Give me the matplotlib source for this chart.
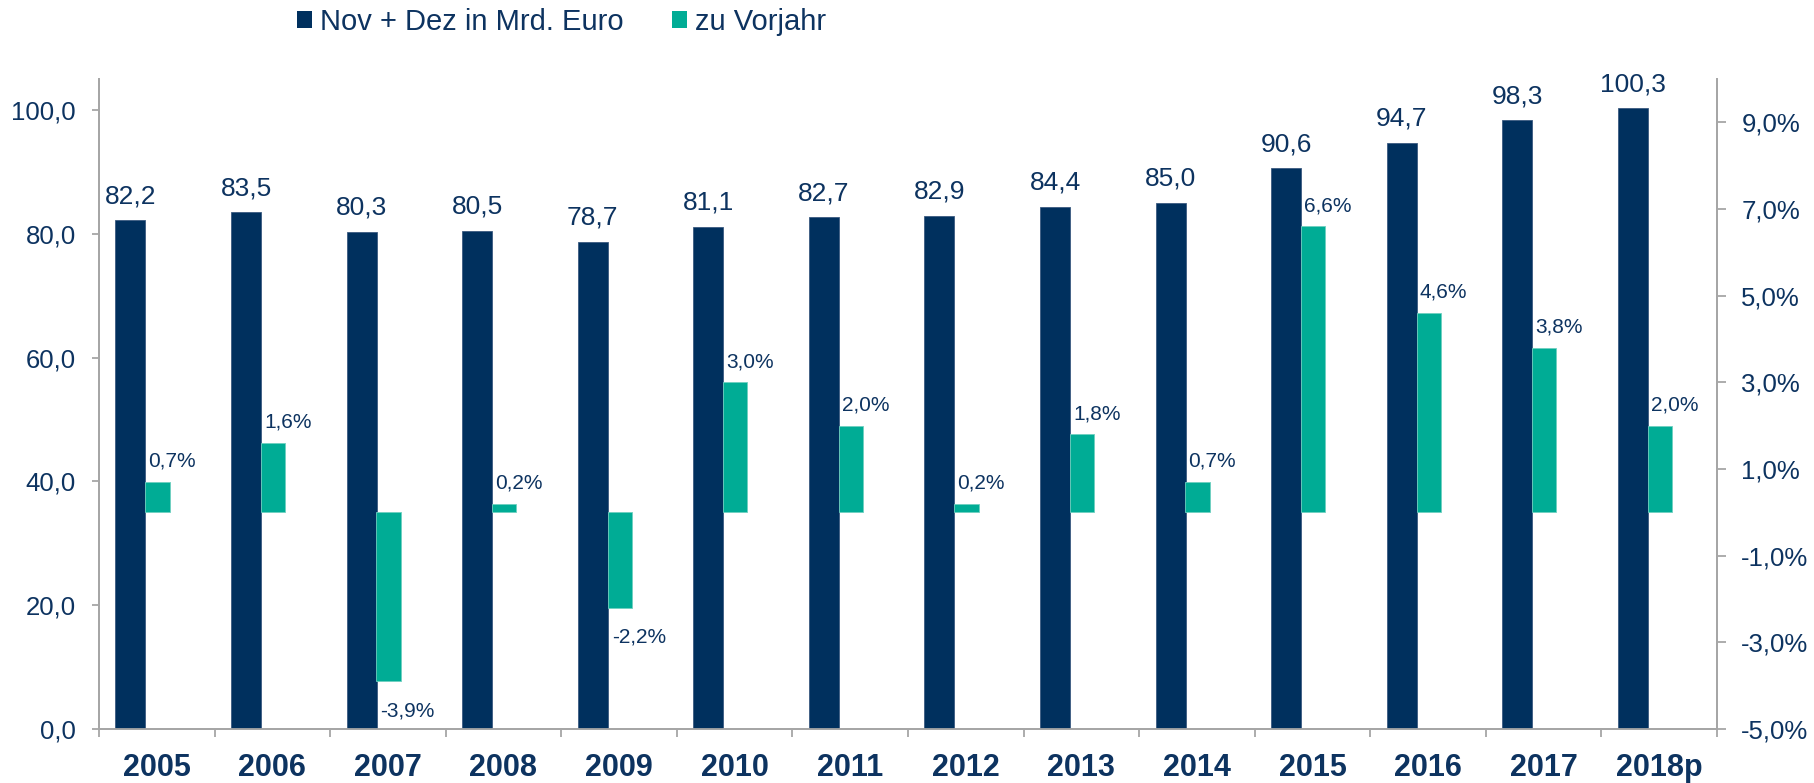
import matplotlib
matplotlib.use("Agg")
import matplotlib.pyplot as plt
from matplotlib.patches import Patch
import numpy as np

plt.rcParams['font.family'] = ['Liberation Sans', 'DejaVu Sans']

years = ["2005", "2006", "2007", "2008", "2009", "2010", "2011", "2012",
         "2013", "2014", "2015", "2016", "2017", "2018p"]
umsatz = [82.2, 83.5, 80.3, 80.5, 78.7, 81.1, 82.7, 82.9, 84.4, 85.0,
          90.6, 94.7, 98.3, 100.3]
vorjahr = [0.7, 1.6, -3.9, 0.2, -2.2, 3.0, 2.0, 0.2, 1.8, 0.7,
           6.6, 4.6, 3.8, 2.0]
left_ticks = [0, 20, 40, 60, 80, 100]
right_ticks = [-5, -3, -1, 1, 3, 5, 7, 9]
legend_labels = ["Nov + Dez in Mrd. Euro", "zu Vorjahr"]

NAVY = "#00305E"
TEAL = "#00AC95"
TXT = "#0D3360"
GRAY = "#A6A6A6"

W, H = 1814, 783
fig = plt.figure(figsize=(W / 100, H / 100), dpi=100)
ax = fig.add_axes([99 / W, (H - 729) / H, (1717 - 99) / W, (729 - 79) / H])
ax2 = ax.twinx()

x = np.arange(len(years))
nw, noff = 0.26, -0.228
tw, toff = 0.21, 0.006

ax.bar(x + noff, umsatz, width=nw, color=NAVY, edgecolor="#3a5a80", linewidth=0.6, zorder=3)
ax2.bar(x + toff, vorjahr, width=tw, color=TEAL, edgecolor="#6fd0c0", linewidth=0.6, zorder=3)

ax.set_xlim(-0.5, len(years) - 0.5)
ax.set_ylim(0, 105)
ax2.set_ylim(-5, 10)

# value labels
for xi, v in zip(x, umsatz):
    ax.annotate(f"{v:.1f}".replace(".", ","), (xi + noff, v),
                xytext=(0, 17), textcoords="offset pixels",
                ha="center", va="baseline", fontsize=19, color=TXT)
for xi, v in zip(x, vorjahr):
    lx = xi + toff - tw / 2
    if v >= 0:
        ax2.annotate(f"{v:.1f}%".replace(".", ","), (lx, v),
                     xytext=(3, 15), textcoords="offset pixels",
                     ha="left", va="baseline", fontsize=15, color=TXT)
    else:
        ax2.annotate(f"{v:.1f}%".replace(".", ","), (lx, v),
                     xytext=(4, -35), textcoords="offset pixels",
                     ha="left", va="baseline", fontsize=15, color=TXT)

# axes styling
for a in (ax, ax2):
    a.spines["top"].set_visible(False)
    for s in ("left", "right", "bottom"):
        a.spines[s].set_color(GRAY)
        a.spines[s].set_linewidth(1.3)

ax.set_yticks(left_ticks)
ax.set_yticklabels([f"{t:.1f}".replace(".", ",") for t in left_ticks])
ax2.set_yticks(right_ticks)
ax2.set_yticklabels([f"{t:.1f}%".replace(".", ",") for t in right_ticks])
ax.tick_params(axis="y", direction="out", length=5, width=1.3, color=GRAY,
               labelsize=18.5, labelcolor=TXT, pad=11.5)
ax2.tick_params(axis="y", direction="out", length=6.5, width=1.3, color=GRAY,
                labelsize=18.5, labelcolor=TXT, pad=11)

# x: boundaries as major ticks, labels at centers as minor ticks
ax.set_xticks(np.arange(-0.5, len(years), 1.0))
ax.set_xticklabels([])
ax.set_xticks(x, minor=True)
ax.set_xticklabels(years, minor=True, fontsize=22, fontweight="bold", color=TXT)
ax.tick_params(axis="x", which="major", direction="out", length=6, width=1.3, color=GRAY)
ax.tick_params(axis="x", which="minor", length=0, pad=17)

handles = [Patch(facecolor=NAVY, edgecolor="none"), Patch(facecolor=TEAL, edgecolor="none")]
fig.legend(handles, legend_labels, loc="center left",
           bbox_to_anchor=(297 / W, 1 - 22 / H), ncol=2, frameon=False,
           fontsize=21, handlelength=0.52, handleheight=0.52,
           handletextpad=0.28, columnspacing=1.65, borderpad=0,
           borderaxespad=0, labelcolor=TXT)

fig.savefig("out.png", dpi=100)
